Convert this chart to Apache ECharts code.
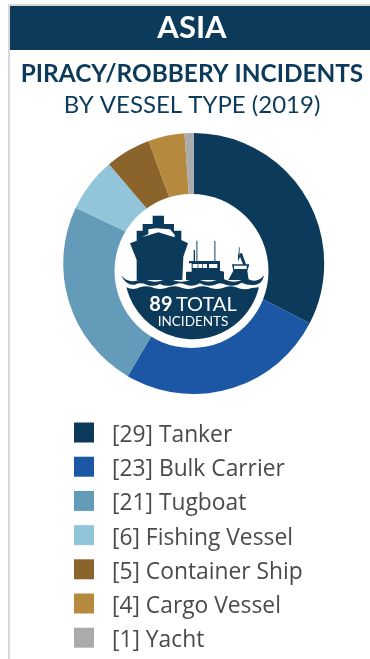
<!DOCTYPE html>
<html><head><meta charset="utf-8">
<style>html,body{margin:0;padding:0;background:#fff}#c{width:370px;height:659px}</style>
<script src="https://cdn.jsdelivr.net/npm/echarts@6/dist/echarts.min.js"></script>
</head><body><div id="c"></div>
<script>
const categories = ['Tanker','Bulk Carrier','Tugboat','Fishing Vessel','Container Ship','Cargo Vessel','Yacht'];
const values = [29,23,21,6,5,4,1];
const colors = ['#0b3a5a','#1c57a5','#639bb9','#93c5da','#8a642b','#b58a3e','#aaabad'];
const heading = 'ASIA';
const titleBold = 'PIRACY/ROBBERY INCIDENTS';
const titleLight = 'BY VESSEL TYPE (2019)';
const totalNum = '89';
const totalWord = 'TOTAL';
const subLabel = 'INCIDENTS';
const navy = '#0b3a5a';

// icon shapes in crop-space units (3 units = 1 px), origin at page (100,200)
const iconPaths = {
  hullBig:'M90,130 L110,122 L110,92 L128,92 L128,72 L158,72 L158,47 L192,47 L192,72 L222,72 L222,92 L244,92 L244,120 L264,130 L250,170 L247,240 L110,240 L110,180 Z',
  bigWhite:'M125,112 L145,102 L145,88 L168,85 L210,88 L224,104 L224,112 L175,97 Z',
  trawler:'M267,183 L360,183 L360,212 L372,215 L372,240 L258,240 L258,215 L275,215 L275,190 L267,190 Z',
  smallBoat:'M396,193 L414,193 L414,160 L426,160 L438,193 L448,193 L442,212 L446,240 L385,240 L400,212 Z',
  waveTop:'M63,226 Q85,252 115,240 Q130,233 140,240 Q165,250 190,240 Q205,233 218,240 Q245,250 270,240 Q290,233 300,240 Q325,250 350,240 Q365,233 378,240 Q400,250 425,240 Q440,233 450,240 Q475,248 492,226 Q488,250 468,254 Q445,258 425,248 Q405,262 378,254 Q360,245 345,254 Q320,262 300,250 Q280,262 258,254 Q240,245 222,254 Q200,262 180,252 Q160,262 140,254 Q120,246 105,254 Q78,258 63,226 Z',
  bowl:'M79,262 Q100,272 120,262 Q138,255 155,262 Q180,272 205,262 Q225,255 240,262 Q265,272 290,262 Q308,255 325,262 Q350,272 375,262 Q392,255 408,262 Q432,272 455,264 L477,262 A205,205 0 0 1 79,262 Z'
};
Object.keys(iconPaths).forEach(k=>echarts.graphic.registerShape(k,echarts.graphic.extendPath(iconPaths[k],{})));

const iconParts = [
    {type:'hullBig',style:{fill:navy}},
    {type:'bigWhite',style:{fill:'#fff'}},
    {type:'trawler',style:{fill:navy}},
    {type:'rect',shape:{x:288,y:122,width:5,height:62},style:{fill:'#6f8ea4'}},
    {type:'rect',shape:{x:342,y:122,width:5,height:62},style:{fill:'#6f8ea4'}},
    {type:'rect',shape:{x:281,y:150,width:4,height:35},style:{fill:navy}},
    {type:'rect',shape:{x:278,y:192,width:15,height:12},style:{fill:'#fff'}},
    {type:'rect',shape:{x:295,y:192,width:12,height:12},style:{fill:'#fff'}},
    {type:'rect',shape:{x:309,y:192,width:12,height:12},style:{fill:'#fff'}},
    {type:'rect',shape:{x:327,y:192,width:25,height:12},style:{fill:'#fff'}},
    {type:'smallBoat',style:{fill:navy}},
    {type:'polygon',shape:{points:[[411,193],[420,170],[429,193]]},style:{fill:'#fff'}},
    {type:'rect',shape:{x:416,y:142,width:4,height:24},style:{fill:'#6f8ea4'}},
    {type:'rect',shape:{x:402,y:197,width:38,height:10},style:{fill:'#fff'}},
    {type:'waveTop',style:{fill:navy}},
    {type:'bowl',style:{fill:navy}}
];
const iconGroup = {
  type:'group', x:100, y:200, scaleX:1/3, scaleY:1/3, silent:true,
  children:iconParts.map(p=>Object.assign({z:12},p))
};

const chart = echarts.init(document.getElementById('c'),null,{renderer:'canvas'});
chart.setOption({
  animation:false,
  backgroundColor:'#fff',
  title:[
    {text:heading,left:192,top:10,padding:0,textAlign:'center',textStyle:{fontFamily:'Lato',fontWeight:700,fontSize:31,color:'#fff',lineHeight:36},z:6},
    {text:titleBold,left:192,top:60,padding:0,textAlign:'center',textStyle:{fontFamily:'Lato',fontWeight:700,fontSize:24.4,color:navy,lineHeight:28}},
    {text:titleLight,left:192,top:91,padding:0,textAlign:'center',textStyle:{fontFamily:'Lato',fontWeight:400,fontSize:24,color:navy,lineHeight:28}}
  ],
  legend:{
    orient:'vertical',left:74,top:418,padding:0,itemWidth:20,itemHeight:20,itemGap:5.2,
    icon:'rect',selectedMode:false,
    data:categories,
    formatter:n=>'{a|['+values[categories.indexOf(n)]+'] '+n+'}',
    textStyle:{rich:{a:{fontFamily:'Open Sans',fontSize:22.8,color:'#4a4a4c',padding:[6,0,0,13],lineHeight:22}}}
  },
  series:[{
    type:'pie',center:[193.7,263.5],radius:[50,130.5],startAngle:90,clockwise:true,
    silent:true,label:{show:false},labelLine:{show:false},
    data:categories.map((n,i)=>({name:n,value:values[i],itemStyle:{color:colors[i]}}))
  }],
  graphic:[
    {type:'rect',shape:{x:9,y:5,width:380,height:680},style:{fill:'none',stroke:'#d8d8d8',lineWidth:2},silent:true,z:1},
    {type:'rect',shape:{x:10,y:6,width:360,height:44},style:{fill:navy},silent:true,z:1},
    {type:'circle',shape:{cx:191.5,cy:271,r:77},style:{fill:'#fff'},silent:true,z:11},
    iconGroup,
    {type:'text',x:193,y:295,z:13,silent:true,style:{text:'{b|'+totalNum+'} {l|'+totalWord+'}',align:'center',verticalAlign:'top',rich:{b:{fill:'#fff',fontFamily:'Lato',fontWeight:700,fontSize:20},l:{fill:'#fff',fontFamily:'Lato',fontSize:20}}}},
    {type:'text',x:193,y:315,z:13,silent:true,style:{text:subLabel,fill:'#fff',fontFamily:'Lato',fontSize:13.5,align:'center',verticalAlign:'top'}}
  ]
});
</script></body></html>
